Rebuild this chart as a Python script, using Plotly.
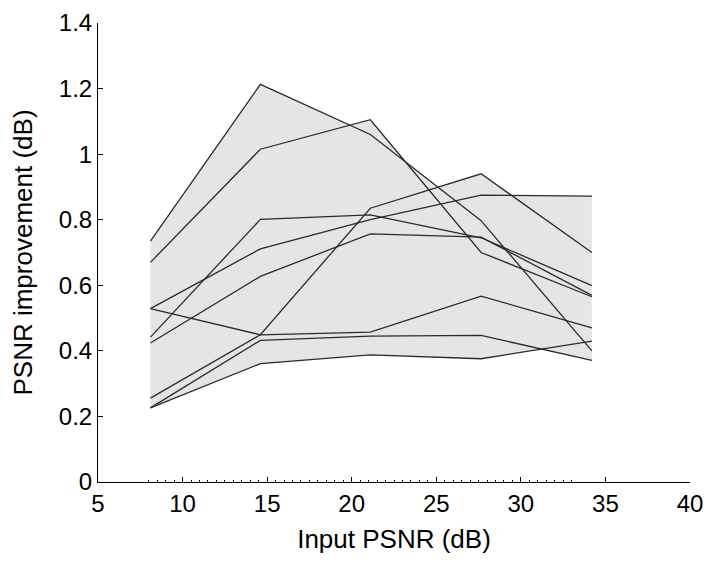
import numpy as np
import plotly.graph_objects as go

# input PSNR levels (dB)
input_psnr = [8.1, 14.6, 21.1, 27.65, 34.2]

# PSNR improvement (dB) for each image
img1 = [0.735, 1.213, 1.060, 0.797, 0.400]
img2 = [0.670, 1.015, 1.105, 0.700, 0.565]
img3 = [0.529, 0.449, 0.457, 0.567, 0.470]
img4 = [0.256, 0.449, 0.835, 0.940, 0.700]
img5 = [0.442, 0.801, 0.815, 0.745, 0.599]
img6 = [0.529, 0.711, 0.800, 0.875, 0.872]
img7 = [0.424, 0.627, 0.757, 0.747, 0.569]
img8 = [0.226, 0.432, 0.445, 0.447, 0.371]
img9 = [0.226, 0.361, 0.388, 0.376, 0.430]

series = [img1, img2, img3, img4, img5, img6, img7, img8, img9]

x_ticks = [5, 10, 15, 20, 25, 30, 35, 40]
y_ticks = [0, 0.2, 0.4, 0.6, 0.8, 1.0, 1.2, 1.4]
y_labels = ["0", "0.2", "0.4", "0.6", "0.8", "1", "1.2", "1.4"]

# envelope of all curves (min/max), evaluated on a fine grid
xs = np.linspace(input_psnr[0], input_psnr[-1], 1200)
curves = np.array([np.interp(xs, input_psnr, s) for s in series])
upper = curves.max(axis=0)
lower = curves.min(axis=0)

fig = go.Figure()
fig.add_trace(go.Scatter(
    x=np.concatenate([xs, xs[::-1]]),
    y=np.concatenate([upper, lower[::-1]]),
    fill="toself", fillcolor="#e5e5e5",
    line=dict(width=0), mode="lines", hoverinfo="skip", showlegend=False))

for s in series:
    fig.add_trace(go.Scatter(x=input_psnr, y=s, mode="lines",
                             line=dict(color="#2b2b2b", width=1.3),
                             showlegend=False))

minor_vals = list(np.arange(8, 33.01, 0.5))

# page body adds an 8px offset, so the figure is a bit smaller than the window
fig.update_layout(
    width=706, height=561,
    margin=dict(l=90, r=24, t=15, b=87),
    plot_bgcolor="white", paper_bgcolor="white",
    font=dict(family="Liberation Sans, Arial, sans-serif", size=24, color="black"),
)
fig.update_xaxes(
    range=[5, 40], tickvals=x_ticks, ticks="inside", ticklen=5, tickcolor="black",
    showline=True, linecolor="black", linewidth=1, showgrid=False, zeroline=False,
    automargin=False, ticklabeloverflow="allow",
    minor=dict(tickmode="array", tickvals=minor_vals, ticks="inside", ticklen=2,
               tickcolor="black", showgrid=False),
    title=dict(text="Input PSNR (dB)", font=dict(size=26), standoff=14),
)
fig.update_yaxes(
    range=[0, 1.4], tickvals=y_ticks, ticktext=y_labels, ticks="inside", ticklen=5,
    tickcolor="black", showline=True, linecolor="black", linewidth=1,
    showgrid=False, zeroline=False, automargin=False, ticklabeloverflow="allow",
    title=dict(text="PSNR improvement (dB)", font=dict(size=26), standoff=24),
)

fig.write_html("out.html")
